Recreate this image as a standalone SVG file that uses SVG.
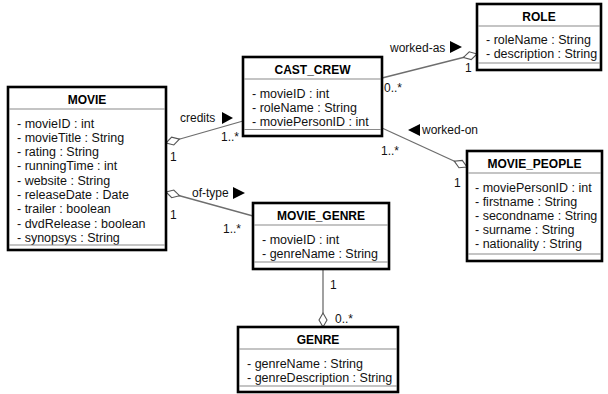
<svg xmlns="http://www.w3.org/2000/svg" width="608" height="394" viewBox="0 0 608 394">
  <style>
    .box { fill: #ffffff; stroke: #000000; stroke-width: 2.6; }
    .sep { stroke: #8a8a8a; stroke-width: 1.2; }
    .title { font-family: "Liberation Sans", Arial, sans-serif; font-size: 12px; font-weight: bold; fill: #000; text-anchor: middle; }
    .attr { font-family: "Liberation Sans", Arial, sans-serif; font-size: 12.5px; fill: #111; }
    .lbl { font-family: "Liberation Sans", Arial, sans-serif; font-size: 12px; fill: #111; }
    .conn { stroke: #6e6e6e; stroke-width: 1.3; fill: none; }
    .dir { fill: #000000; }
  </style>
  <defs>
    <!-- hollow aggregation diamond, placed at the start of a connector path -->
    <marker id="diamond" markerUnits="userSpaceOnUse" markerWidth="16" markerHeight="10" refX="0" refY="5" viewBox="0 0 16 10" orient="auto" overflow="visible">
      <path d="M0,5 L7,1 L14,5 L7,9 Z" fill="#ffffff" stroke="#555555" stroke-width="1.1"/>
    </marker>
  </defs>

  <!-- associations -->
  <g id="connectors">
    <path class="conn" d="M166,143 L243,121" marker-start="url(#diamond)"/>
    <path class="conn" d="M477,54 L382,78" marker-start="url(#diamond)"/>
    <path class="conn" d="M467,167 L382,128" marker-start="url(#diamond)"/>
    <path class="conn" d="M166,192 L253,216" marker-start="url(#diamond)"/>
    <path class="conn" d="M323,327 L323,269" marker-start="url(#diamond)"/>

    <text class="lbl" x="180" y="122">credits</text>
    <polygon class="dir" points="222,112 222,124 233,118"/>
    <text class="lbl" x="170" y="161">1</text>
    <text class="lbl" x="221" y="141">1..*</text>

    <text class="lbl" x="390" y="52">worked-as</text>
    <polygon class="dir" points="450,41 450,53 462,47"/>
    <text class="lbl" x="465" y="72">1</text>
    <text class="lbl" x="384" y="92">0..*</text>

    <polygon class="dir" points="420,124 420,136 408,130"/>
    <text class="lbl" x="422" y="134">worked-on</text>
    <text class="lbl" x="381" y="155">1..*</text>
    <text class="lbl" x="454" y="187">1</text>

    <text class="lbl" x="192" y="197">of-type</text>
    <polygon class="dir" points="233,187 233,199 245,193"/>
    <text class="lbl" x="170" y="219">1</text>
    <text class="lbl" x="223" y="233">1..*</text>

    <text class="lbl" x="330" y="289">1</text>
    <text class="lbl" x="335" y="323">0..*</text>
  </g>

  <g id="movie">
    <rect class="box" x="8" y="87" width="158" height="163"/>
    <text class="title" x="87" y="104">MOVIE</text>
    <line class="sep" x1="9" y1="109" x2="165" y2="109"/>
    <text class="attr" x="17" y="127.5">- movieID : int</text>
    <text class="attr" x="17" y="141.8">- movieTitle : String</text>
    <text class="attr" x="17" y="156.1">- rating : String</text>
    <text class="attr" x="17" y="170.4">- runningTime : int</text>
    <text class="attr" x="17" y="184.7">- website : String</text>
    <text class="attr" x="17" y="199">- releaseDate : Date</text>
    <text class="attr" x="17" y="213.3">- trailer : boolean</text>
    <text class="attr" x="17" y="227.6">- dvdRelease : boolean</text>
    <text class="attr" x="17" y="241.9">- synopsys : String</text>
    <line class="sep" x1="9" y1="245" x2="165" y2="245"/>
  </g>

  <g id="cast_crew">
    <rect class="box" x="243" y="57" width="139" height="79"/>
    <text class="title" x="312.5" y="74">CAST_CREW</text>
    <line class="sep" x1="244" y1="79" x2="381" y2="79"/>
    <text class="attr" x="252" y="97.5">- movieID : int</text>
    <text class="attr" x="252" y="111.5">- roleName : String</text>
    <text class="attr" x="252" y="125.5">- moviePersonID : int</text>
    <line class="sep" x1="244" y1="129.5" x2="381" y2="129.5"/>
  </g>

  <g id="role">
    <rect class="box" x="477" y="4" width="124" height="66"/>
    <text class="title" x="539" y="21">ROLE</text>
    <line class="sep" x1="478" y1="26" x2="600" y2="26"/>
    <text class="attr" x="486" y="43.5">- roleName : String</text>
    <text class="attr" x="486" y="57.5">- description : String</text>
    <line class="sep" x1="478" y1="63" x2="600" y2="63"/>
  </g>

  <g id="movie_people">
    <rect class="box" x="467" y="151" width="135" height="110"/>
    <text class="title" x="534.5" y="168">MOVIE_PEOPLE</text>
    <line class="sep" x1="468" y1="173" x2="601" y2="173"/>
    <text class="attr" x="475" y="191.5">- moviePersonID : int</text>
    <text class="attr" x="475" y="205.5">- firstname : String</text>
    <text class="attr" x="475" y="219.5">- secondname : String</text>
    <text class="attr" x="475" y="233.5">- surname : String</text>
    <text class="attr" x="475" y="247.5">- nationality : String</text>
    <line class="sep" x1="468" y1="254" x2="601" y2="254"/>
  </g>

  <g id="movie_genre">
    <rect class="box" x="253" y="203" width="136" height="66"/>
    <text class="title" x="321" y="220">MOVIE_GENRE</text>
    <line class="sep" x1="254" y1="225" x2="388" y2="225"/>
    <text class="attr" x="262" y="243.5">- movieID : int</text>
    <text class="attr" x="262" y="257.5">- genreName : String</text>
    <line class="sep" x1="254" y1="262" x2="388" y2="262"/>
  </g>

  <g id="genre">
    <rect class="box" x="238" y="327" width="160" height="65"/>
    <text class="title" x="318" y="344">GENRE</text>
    <line class="sep" x1="239" y1="349" x2="397" y2="349"/>
    <text class="attr" x="247" y="367.5">- genreName : String</text>
    <text class="attr" x="247" y="381.5">- genreDescription : String</text>
    <line class="sep" x1="239" y1="386" x2="397" y2="386"/>
  </g>
</svg>
